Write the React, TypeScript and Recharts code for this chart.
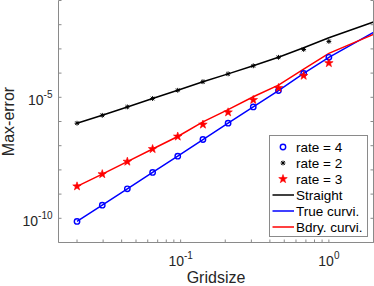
import React from 'react';
import { ComposedChart, Line, XAxis, YAxis, Legend } from 'recharts';

const gridsize = [0.02, 0.0296, 0.0437, 0.0647, 0.0956, 0.1414, 0.209, 0.309, 0.457, 0.676, 1.0];
const lineGridsize = [0.02, 0.0296, 0.0437, 0.0647, 0.0956, 0.1414, 0.209, 0.309, 0.457, 0.676, 1.0, 2.0];

const rate4 = [7.4e-11, 3.5e-10, 1.65e-9, 7.9e-9, 3.7e-8, 1.8e-7, 8.5e-7, 4.0e-6, 1.9e-5, 9.7e-5, 4.5e-4];
const rate2 = [8.5e-7, 1.8e-6, 4.0e-6, 8.9e-6, 1.95e-5, 4.4e-5, 9.3e-5, 2.0e-4, 4.5e-4, 9.5e-4, 2.04e-3];
const rate3 = [2.1e-9, 6.7e-9, 2.2e-8, 7.3e-8, 2.4e-7, 7.5e-7, 2.4e-6, 7.8e-6, 2.45e-5, 7.8e-5, 2.6e-4];

const straight = [8.5e-7, 1.8e-6, 4.0e-6, 8.9e-6, 1.95e-5, 4.4e-5, 9.3e-5, 2.0e-4, 4.5e-4, 1.12e-3, 2.9e-3, 1.29e-2];
const trueCurvi = [7.4e-11, 3.5e-10, 1.65e-9, 7.9e-9, 3.7e-8, 1.8e-7, 8.5e-7, 4.0e-6, 1.9e-5, 9.7e-5, 4.5e-4, 4.8e-3];
const bdryCurvi = [2.1e-9, 6.7e-9, 2.2e-8, 7.3e-8, 2.4e-7, 9.6e-7, 3.1e-6, 1.05e-5, 3.2e-5, 1.45e-4, 6.5e-4, 4.0e-3];

const xTicks = [0.02, 0.03, 0.04, 0.05, 0.06, 0.07, 0.08, 0.09, 0.1, 0.2, 0.3, 0.4, 0.5, 0.6, 0.7, 0.8, 0.9, 1, 2];
const xMajor = [0.1, 1];
const xMajorExp = ['-1', '0'];
const yTicks = [1e-11, 1e-10, 1e-9, 1e-8, 1e-7, 1e-6, 1e-5, 1e-4, 1e-3, 1e-2, 1e-1];
const yMajor = [1e-10, 1e-5];
const yMajorExp = ['-10', '-5'];

const legendLabels = ['rate = 4', 'rate = 2', 'rate = 3', 'Straight', 'True curvi.', 'Bdry. curvi.'];
const BLUE = '#0000ff';
const RED = '#ff0000';
const BLACK = '#000000';
const AX = '#8a8a8a';
const TXT = '#262626';
const FONT = '"Liberation Sans", Arial, Helvetica, sans-serif';

const toPts = (xs: number[], ys: number[]) => ys.map((y, i) => ({ x: xs[i], y }));

const circleMarker = (cx: number, cy: number, key?: any) => (
  <circle key={key} cx={cx} cy={cy} r={2.7} fill="none" stroke={BLUE} strokeWidth={1.4} />
);
const asteriskMarker = (cx: number, cy: number, key?: any) => {
  const s = 2.4;
  const d = s * 0.75;
  return (
    <g key={key} stroke={BLACK} strokeWidth={1}>
      <line x1={cx - s} y1={cy} x2={cx + s} y2={cy} />
      <line x1={cx} y1={cy - s} x2={cx} y2={cy + s} />
      <line x1={cx - d} y1={cy - d} x2={cx + d} y2={cy + d} />
      <line x1={cx - d} y1={cy + d} x2={cx + d} y2={cy - d} />
    </g>
  );
};
const starMarker = (cx: number, cy: number, key?: any) => {
  const R = 4.5;
  const r = R * 0.4;
  const pts: string[] = [];
  for (let i = 0; i < 10; i++) {
    const a = -Math.PI / 2 + (i * Math.PI) / 5;
    const rr = i % 2 === 0 ? R : r;
    pts.push(`${cx + rr * Math.cos(a)},${cy + rr * Math.sin(a)}`);
  }
  return <polygon key={key} points={pts.join(' ')} fill={RED} stroke={RED} strokeWidth={0.6} />;
};

const markerDot = (fn: (cx: number, cy: number, key?: any) => any) => (props: any) => {
  const { cx, cy, index } = props;
  if (cx == null || cy == null) return <g key={`e${index}`} />;
  return fn(cx, cy, `m${index}`);
};

const BottomTick = (props: any) => {
  const { x, y, payload } = props;
  const v = payload.value;
  const mi = xMajor.findIndex((m) => Math.abs(m - v) < 1e-9);
  return (
    <g>
      <line x1={x} x2={x} y1={y} y2={y - 3} stroke={AX} strokeWidth={1} />
      {mi >= 0 && (
        <text x={x} y={y + 23} textAnchor="middle" fontSize={14} fill={TXT} fontFamily={FONT}>
          10<tspan dy={-7} fontSize={10}>{xMajorExp[mi]}</tspan>
        </text>
      )}
    </g>
  );
};
const TopTick = (props: any) => {
  const { x, y } = props;
  return <line x1={x} x2={x} y1={y} y2={y + 3} stroke={AX} strokeWidth={1} />;
};
const LeftTick = (props: any) => {
  const { x, y, payload } = props;
  const v = payload.value;
  const mi = yMajor.findIndex((m) => Math.abs(Math.log10(m) - Math.log10(v)) < 1e-6);
  return (
    <g>
      <line x1={x} x2={x + 3} y1={y} y2={y} stroke={AX} strokeWidth={1} />
      {mi >= 0 && (
        <text x={x - 6} y={y + 8} textAnchor="end" fontSize={14} fill={TXT} fontFamily={FONT}>
          10<tspan dy={-7} fontSize={10}>{yMajorExp[mi]}</tspan>
        </text>
      )}
    </g>
  );
};
const RightTick = (props: any) => {
  const { x, y } = props;
  return <line x1={x} x2={x - 3} y1={y} y2={y} stroke={AX} strokeWidth={1} />;
};

const LegendBox = () => {
  const markers = [circleMarker, asteriskMarker, starMarker];
  const lineColors = [BLACK, BLUE, RED];
  return (
    <svg width={99} height={102} style={{ display: 'block' }}>
      <rect x={0.5} y={0.5} width={98} height={101} fill="#ffffff" stroke={AX} strokeWidth={1} />
      {legendLabels.map((lab, i) => {
        const cy = 12 + 16 * i;
        return (
          <g key={lab}>
            {i < 3
              ? markers[i](14, cy)
              : <line x1={3.5} x2={25} y1={cy} y2={cy} stroke={lineColors[i - 3]} strokeWidth={1.5} />}
            <text x={27} y={cy + 4.8} fontSize={13.5} fill={BLACK} fontFamily={FONT}>{lab}</text>
          </g>
        );
      })}
    </svg>
  );
};

export default function App() {
  return (
    <div style={{ position: 'absolute', left: 0, top: 0, width: 374, height: 286, background: '#fff' }}>
      <ComposedChart width={374} height={286} margin={{ top: 0.5, right: 0, bottom: 0, left: 0 }}>
        <XAxis
          xAxisId="b"
          type="number"
          dataKey="x"
          scale="log"
          domain={[0.015, 2]}
          allowDataOverflow
          ticks={xTicks}
          interval={0}
          height={43.5}
          tickSize={0}
          tickMargin={0}
          tickLine={false}
          axisLine={{ stroke: AX, strokeWidth: 1 }}
          tick={<BottomTick />}
          label={{
            content: (p: any) => {
              const vb = p.viewBox || {};
              return (
                <text x={vb.x + vb.width / 2} y={vb.y + 40.5} textAnchor="middle" fontSize={16} fill={TXT} fontFamily={FONT}>
                  Gridsize
                </text>
              );
            },
          }}
        />
        <XAxis
          xAxisId="t"
          orientation="top"
          type="number"
          dataKey="x"
          scale="log"
          domain={[0.015, 2]}
          allowDataOverflow
          ticks={xTicks}
          interval={0}
          height={0}
          tickSize={0}
          tickMargin={0}
          tickLine={false}
          axisLine={{ stroke: AX, strokeWidth: 1 }}
          tick={<TopTick />}
        />
        <YAxis
          yAxisId="l"
          type="number"
          dataKey="y"
          scale="log"
          domain={[1e-11, 1e-1]}
          allowDataOverflow
          ticks={yTicks}
          interval={0}
          width={58.5}
          tickSize={0}
          tickMargin={0}
          tickLine={false}
          axisLine={{ stroke: AX, strokeWidth: 1 }}
          tick={<LeftTick />}
          label={{
            content: (p: any) => {
              const vb = p.viewBox || {};
              const cx = 13.5;
              const cy = vb.y + vb.height / 2;
              return (
                <text x={cx} y={cy} transform={`rotate(-90 ${cx} ${cy})`} textAnchor="middle" fontSize={16} fill={TXT} fontFamily={FONT}>
                  Max-error
                </text>
              );
            },
          }}
        />
        <YAxis
          yAxisId="r"
          orientation="right"
          type="number"
          dataKey="y"
          scale="log"
          domain={[1e-11, 1e-1]}
          allowDataOverflow
          ticks={yTicks}
          interval={0}
          width={0.5}
          tickSize={0}
          tickMargin={0}
          tickLine={false}
          axisLine={{ stroke: AX, strokeWidth: 1 }}
          tick={<RightTick />}
        />
        <Line xAxisId="b" yAxisId="l" data={toPts(lineGridsize, straight)} dataKey="y" stroke={BLACK} strokeWidth={1.5} dot={false} isAnimationActive={false} legendType="none" />
        <Line xAxisId="b" yAxisId="l" data={toPts(lineGridsize, trueCurvi)} dataKey="y" stroke={BLUE} strokeWidth={1.5} dot={false} isAnimationActive={false} legendType="none" />
        <Line xAxisId="b" yAxisId="l" data={toPts(lineGridsize, bdryCurvi)} dataKey="y" stroke={RED} strokeWidth={1.5} dot={false} isAnimationActive={false} legendType="none" />
        <Line xAxisId="b" yAxisId="l" data={toPts(gridsize, rate4)} dataKey="y" stroke="none" dot={markerDot(circleMarker)} activeDot={false} isAnimationActive={false} legendType="none" />
        <Line xAxisId="b" yAxisId="l" data={toPts(gridsize, rate2)} dataKey="y" stroke="none" dot={markerDot(asteriskMarker)} activeDot={false} isAnimationActive={false} legendType="none" />
        <Line xAxisId="b" yAxisId="l" data={toPts(gridsize, rate3)} dataKey="y" stroke="none" dot={markerDot(starMarker)} activeDot={false} isAnimationActive={false} legendType="none" />
        <Legend
          layout="vertical"
          align="center"
          verticalAlign="middle"
          content={() => <LegendBox />}
          wrapperStyle={{ position: 'absolute', left: 269, top: 135, width: 99, height: 102, margin: 0, padding: 0 }}
        />
      </ComposedChart>
    </div>
  );
}
